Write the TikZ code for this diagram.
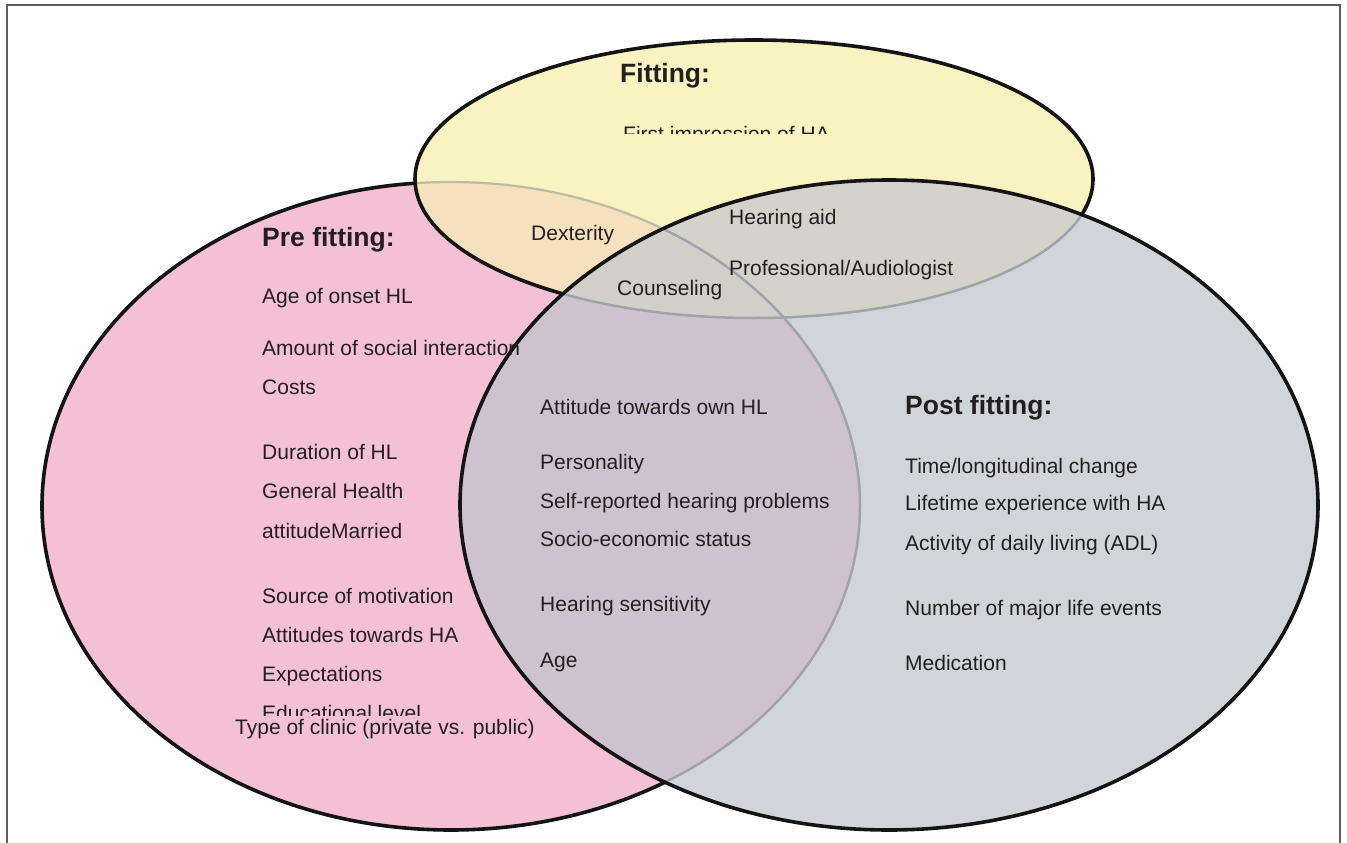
\documentclass[tikz,border=0pt]{standalone}
\usepackage{fontspec}
\setmainfont{Liberation Sans}
\definecolor{txt}{HTML}{231F20}
\definecolor{pinkc}{HTML}{F4C0D4}
\definecolor{yelc}{HTML}{F9F3C1}
\definecolor{grayc}{HTML}{D1D4D9}
\definecolor{pyc}{HTML}{F6E1BE}
\definecolor{pgc}{HTML}{CFC2CF}
\definecolor{ygc}{HTML}{D3D3CB}
\definecolor{allc}{HTML}{D1CFCA}
\definecolor{lineY}{HTML}{BDBBA6}
\definecolor{lineG}{HTML}{A0A3A7}
\definecolor{framec}{HTML}{5E5E5E}
\begin{document}
\begin{tikzpicture}[x=1pt,y=-1pt,
  lbl/.style={anchor=base west, text=txt, font=\fontsize{21}{25}\selectfont, inner sep=0pt},
  ttl/.style={anchor=base west, text=txt, font=\fontsize{26.5}{30}\selectfont\bfseries, inner sep=0pt},
  outl/.style={line width=3.6pt, draw=black!92},
  ghostY/.style={line width=2.2pt, draw=lineY},
  ghostG/.style={line width=2.5pt, draw=lineG}]
\useasboundingbox (0,0) rectangle (1347,843);
\def\pinkE{(451,506) ellipse [x radius=409, y radius=324]}
\def\yelE{(754,179) ellipse [x radius=339, y radius=139]}
\def\grayE{(889,505) ellipse [x radius=429, y radius=325]}
% frame
\draw[framec, line width=2pt] (7,843) -- (7,5) -- (1340,5) -- (1340,843);
% pink
\fill[pinkc] \pinkE;
\draw[outl] \pinkE;
% yellow
\fill[yelc] \yelE;
\begin{scope}\clip \pinkE; \fill[pyc] \yelE; \end{scope}
\begin{scope}\clip \yelE; \draw[ghostY] \pinkE; \end{scope}
\draw[outl] \yelE;
% gray
\fill[grayc] \grayE;
\begin{scope}\clip \grayE; \clip \pinkE; \fill[pgc] \grayE; \end{scope}
\begin{scope}\clip \grayE; \clip \yelE; \fill[ygc] \grayE; \end{scope}
\begin{scope}\clip \grayE; \clip \yelE; \clip \pinkE; \fill[allc] \grayE; \end{scope}
\begin{scope}\clip \grayE; \draw[ghostG] \pinkE; \draw[ghostG] \yelE; \end{scope}
\draw[outl] \grayE;
% titles
\node[ttl] (tfit) at (620,83) {Fitting:};
\node[ttl] (tpre) at (262,246.5) {Pre fitting:};
\node[ttl] (tpost) at (905,414) {Post fitting:};
% clipped texts
\begin{scope}\clip (500,0) rectangle (1000,133.5);
\node[lbl] (first) at (623,141) {First impression of HA};
\end{scope}
\begin{scope}\clip (200,600) rectangle (700,715.5);
\node[lbl] (edu) at (262,720) {Educational level};
\end{scope}
% pre fitting column
\node[lbl] (a1) at (262,303.5) {Age of onset HL};
\node[lbl] (a2) at (262,355.5) {Amount of social interaction};
\node[lbl] (a3) at (262,394.5) {Costs};
\node[lbl] (a4) at (262,459.5) {Duration of HL};
\node[lbl] (a5) at (262,498.5) {General Health};
\node[lbl] (a6) at (262,538.5) {attitudeMarried};
\node[lbl] (a7) at (262,603.5) {Source of motivation};
\node[lbl] (a8) at (262,642.5) {Attitudes towards HA};
\node[lbl] (a9) at (262,681.5) {Expectations};
\node[lbl] (a10) at (235,734) {Type of clinic (private vs. public)};
% overlaps top
\node[lbl] (b1) at (531,240.5) {Dexterity};
\node[lbl] (b2) at (617,295.5) {Counseling};
\node[lbl] (b3) at (729,224.5) {Hearing aid};
\node[lbl] (b4) at (729,275.5) {Professional/Audiologist};
% middle
\node[lbl] (c1) at (540,414.5) {Attitude towards own HL};
\node[lbl] (c2) at (540,469.5) {Personality};
\node[lbl] (c3) at (540,508.5) {Self-reported hearing problems};
\node[lbl] (c4) at (540,546.5) {Socio-economic status};
\node[lbl] (c5) at (540,611.5) {Hearing sensitivity};
\node[lbl] (c6) at (540,667.5) {Age};
% post fitting
\node[lbl] (d1) at (905,473.5) {Time/longitudinal change};
\node[lbl] (d2) at (905,510.5) {Lifetime experience with HA};
\node[lbl] (d3) at (905,550.5) {Activity of daily living (ADL)};
\node[lbl] (d4) at (905,615.5) {Number of major life events};
\node[lbl] (d5) at (905,670.5) {Medication};
\end{tikzpicture}
\end{document}
